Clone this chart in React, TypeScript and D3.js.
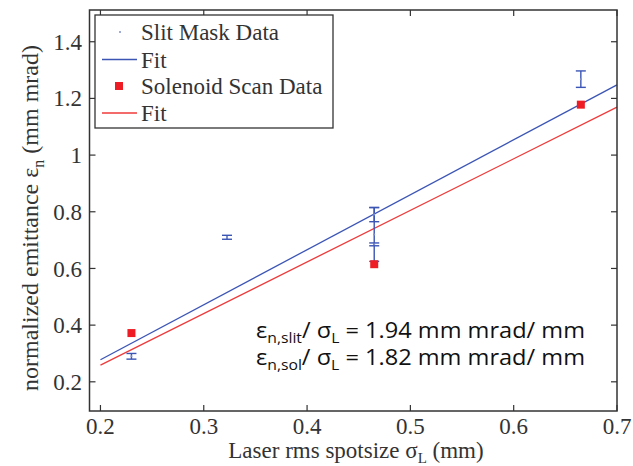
import React, { useEffect, useRef } from "react";
import * as d3 from "d3";

// slit mask measurements (x, y, error)
const slitX = [0.23, 0.3225, 0.465, 0.465, 0.465, 0.665];
const slitY = [0.29, 0.71, 0.72, 0.79, 0.685, 1.268];
const slitErr = [0.01, 0.007, 0.095, 0.025, 0.005, 0.029];

// solenoid scan
const solX = [0.23, 0.465, 0.665];
const solY = [0.372, 0.615, 1.178];

// linear fits: slope, intercept
const slitFit = [1.94, -0.11];
const solFit = [1.82, -0.105];
const fitRange = [0.2, 0.7];

const xTicks = [0.2, 0.3, 0.4, 0.5, 0.6, 0.7];
const yTicks = [0.2, 0.4, 0.6, 0.8, 1, 1.2, 1.4];

const legendLabels = ["Slit Mask Data", "Fit", "Solenoid Scan Data", "Fit"];

const BLUE = "#3b55b5";
const RED = "#f03a3a";
const SERIF = "'Liberation Serif', 'DejaVu Serif', serif";
const SANS = "'Open Sans', Lato, sans-serif";

const App = () => {
  const svgRef = useRef<SVGSVGElement>(null);

  useEffect(() => {
    const w = 633;
    const h = 466;
    const svg = d3.select(svgRef.current).attr("width", w).attr("height", h);
    svg.selectAll("*").remove();

    const left = 89.5, right = 617, top = 10, bottom = 411;
    const x = d3.scaleLinear().domain([0.1894, 0.7]).range([left, right]);
    const y = d3.scaleLinear().domain([0.097, 1.512]).range([bottom, top]);

    const plot = svg.append("g");

    // fit lines
    const fitLine = (fit: number[], color: string) => {
      plot
        .append("path")
        .attr(
          "d",
          d3.line<number>()
            .x((d) => x(d))
            .y((d) => y(fit[0] * d + fit[1]))(fitRange)
        )
        .attr("stroke", color)
        .attr("stroke-width", 1.3)
        .attr("fill", "none");
    };
    fitLine(slitFit, BLUE);
    fitLine(solFit, RED);

    // error bars
    const cap = 5;
    slitX.forEach((xv, i) => {
      const g = plot.append("g").attr("stroke", BLUE).attr("stroke-width", 1.4);
      const y1 = y(slitY[i] + slitErr[i]);
      const y0 = y(slitY[i] - slitErr[i]);
      g.append("line").attr("x1", x(xv)).attr("x2", x(xv)).attr("y1", y1).attr("y2", y0);
      g.append("line").attr("x1", x(xv) - cap).attr("x2", x(xv) + cap).attr("y1", y1).attr("y2", y1);
      g.append("line").attr("x1", x(xv) - cap).attr("x2", x(xv) + cap).attr("y1", y0).attr("y2", y0);
      plot
        .append("circle")
        .attr("cx", x(xv))
        .attr("cy", y(slitY[i]))
        .attr("r", 1)
        .attr("fill", "#8090c8");
    });

    // solenoid squares
    plot
      .selectAll(".sol")
      .data(solX)
      .join("rect")
      .attr("x", (d) => x(d) - 4)
      .attr("y", (d, i) => y(solY[i]) - 4)
      .attr("width", 8)
      .attr("height", 8)
      .attr("fill", "#ee1c24");

    // axes frame with inward ticks
    const axisColor = "#333";
    svg
      .append("rect")
      .attr("x", left)
      .attr("y", top)
      .attr("width", right - left)
      .attr("height", bottom - top)
      .attr("fill", "none")
      .attr("stroke", axisColor)
      .attr("stroke-width", 1.5);

    const tl = 6;
    xTicks.forEach((t) => {
      svg.append("line").attr("x1", x(t)).attr("x2", x(t)).attr("y1", bottom).attr("y2", bottom - tl).attr("stroke", axisColor).attr("stroke-width", 1.2);
      svg.append("line").attr("x1", x(t)).attr("x2", x(t)).attr("y1", top).attr("y2", top + tl).attr("stroke", axisColor).attr("stroke-width", 1.2);
      svg
        .append("text")
        .attr("x", x(t))
        .attr("y", 434)
        .attr("text-anchor", "middle")
        .attr("font-family", SERIF)
        .attr("font-size", 23)
        .attr("fill", axisColor)
        .text(d3.format(".1f")(t));
    });
    yTicks.forEach((t) => {
      svg.append("line").attr("x1", left).attr("x2", left + tl).attr("y1", y(t)).attr("y2", y(t)).attr("stroke", axisColor).attr("stroke-width", 1.2);
      svg.append("line").attr("x1", right).attr("x2", right - tl).attr("y1", y(t)).attr("y2", y(t)).attr("stroke", axisColor).attr("stroke-width", 1.2);
      svg
        .append("text")
        .attr("x", 82)
        .attr("y", y(t))
        .attr("dy", "0.35em")
        .attr("text-anchor", "end")
        .attr("font-family", SERIF)
        .attr("font-size", 23)
        .attr("fill", axisColor)
        .text(t === 1 ? "1" : d3.format(".1f")(t));
    });

    // axis labels
    const xl = svg
      .append("text")
      .attr("x", 356)
      .attr("y", 458)
      .attr("text-anchor", "middle")
      .attr("font-family", SERIF)
      .attr("font-size", 23)
      .attr("fill", axisColor);
    xl.append("tspan").text("Laser rms spotsize σ");
    xl.append("tspan").attr("font-size", 15).attr("dy", 5).text("L");
    xl.append("tspan").attr("dy", -5).text(" (mm)");

    const yl = svg
      .append("text")
      .attr("transform", "translate(38,218) rotate(-90)")
      .attr("text-anchor", "middle")
      .attr("font-family", SERIF)
      .attr("font-size", 24)
      .attr("fill", axisColor);
    yl.append("tspan").text("normalized emittance  ε");
    yl.append("tspan").attr("font-size", 16).attr("dy", 6).text("n");
    yl.append("tspan").attr("dy", -6).text(" (mm mrad)");

    // legend
    const lg = svg.append("g");
    lg.append("rect")
      .attr("x", 95)
      .attr("y", 15)
      .attr("width", 238)
      .attr("height", 113)
      .attr("fill", "white")
      .attr("stroke", axisColor)
      .attr("stroke-width", 1.3);
    const rows = [32, 59.5, 86, 113];
    legendLabels.forEach((lab, i) => {
      lg.append("text")
        .attr("x", 141)
        .attr("y", rows[i])
        .attr("dy", "0.35em")
        .attr("font-family", SERIF)
        .attr("font-size", 23)
        .attr("fill", axisColor)
        .text(lab);
    });
    lg.append("circle").attr("cx", 120).attr("cy", rows[0]).attr("r", 1).attr("fill", "#8090c8");
    lg.append("line").attr("x1", 102).attr("x2", 137).attr("y1", rows[1]).attr("y2", rows[1]).attr("stroke", BLUE).attr("stroke-width", 1.3);
    lg.append("rect").attr("x", 115).attr("y", rows[2] - 4).attr("width", 8).attr("height", 8).attr("fill", "#ee1c24");
    lg.append("line").attr("x1", 102).attr("x2", 137).attr("y1", rows[3]).attr("y2", rows[3]).attr("stroke", RED).attr("stroke-width", 1.3);

    // slope annotation
    const ann = [
      ["n,slit", "1.94"],
      ["n,sol", "1.82"],
    ];
    ann.forEach((a, i) => {
      const t = svg
        .append("text")
        .attr("x", 256)
        .attr("y", 338 + i * 27)
        .attr("font-family", SANS)
        .attr("font-size", 21)
        .attr("textLength", 329)
        .attr("lengthAdjust", "spacingAndGlyphs")
        .attr("fill", "#111");
      t.append("tspan").text("ε");
      t.append("tspan").attr("font-size", 14).attr("dy", 5).text(a[0]);
      t.append("tspan").attr("dy", -5).text("/ σ");
      t.append("tspan").attr("font-size", 14).attr("dy", 5).text("L");
      t.append("tspan").attr("dy", -5).text(` = ${a[1]} mm mrad/ mm`);
    });
  });

  return (
    <svg
      ref={svgRef}
      style={{ position: "absolute", left: 0, top: 0, background: "white" }}
    />
  );
};

export default App;
